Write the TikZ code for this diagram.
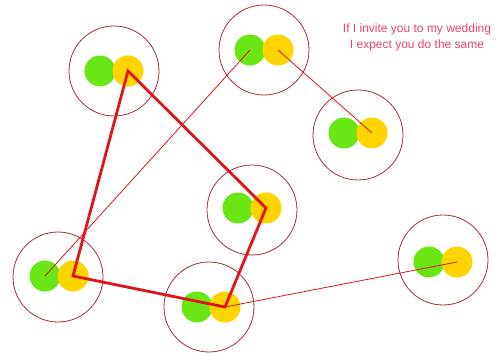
\documentclass[tikz,border=0pt]{standalone}
\usepackage{fontspec}
\setmainfont{Liberation Sans}
\usepackage{tikz}
\usetikzlibrary{positioning, calc}
\definecolor{ringred}{RGB}{165,45,55}
\definecolor{linered}{RGB}{225,20,25}
\definecolor{limegreen}{RGB}{105,230,20}
\definecolor{goldyellow}{RGB}{255,212,0}
\definecolor{notepink}{RGB}{230,70,105}

\begin{document}
\begin{tikzpicture}[x=1pt, y=-1pt,
    friend/.style={circle, draw=ringred, line width=0.8pt, minimum size=90pt, inner sep=0pt},
    greendot/.style={circle, fill=limegreen, minimum size=31pt, inner sep=0pt},
    yellowdot/.style={circle, fill=goldyellow, minimum size=31pt, inner sep=0pt},
    strong/.style={draw=linered, line width=2.8pt, line join=miter},
    weak/.style={draw=linered, line width=0.8pt}]
      \useasboundingbox (0,0) rectangle (499,356);

      \node[friend] (F1) at (114,71) {};
      \node[friend] (F2) at (264,50) {};
      \node[friend] (F3) at (358,135) {};
      \node[friend] (F4) at (252,210) {};
      \node[friend] (F5) at (58,277) {};
      \node[friend] (F6) at (209,307) {};
      \node[friend] (F7) at (443,260) {};

      \node[greendot] (F1g) at (100,71) {};
      \node[yellowdot] (F1y) at (128,71) {};
      \node[greendot] (F2g) at (250,50) {};
      \node[yellowdot] (F2y) at (278,50) {};
      \node[greendot] (F3g) at (344,133) {};
      \node[yellowdot] (F3y) at (372,133) {};
      \node[greendot] (F4g) at (238,208) {};
      \node[yellowdot] (F4y) at (266,208) {};
      \node[greendot] (F5g) at (45,276) {};
      \node[yellowdot] (F5y) at (73,276) {};
      \node[greendot] (F6g) at (197,307) {};
      \node[yellowdot] (F6y) at (225,307) {};
      \node[greendot] (F7g) at (429,262) {};
      \node[yellowdot] (F7y) at (457,262) {};

      \node[align=center, text=notepink, font=\fontsize{12}{16}\selectfont] (note) at (417,37) {If I invite you to my wedding\\I expect you do the same};

      \draw[weak] (node cs:name=F2g,anchor=center) -- (node cs:name=F5g,anchor=center);
      \draw[weak] (node cs:name=F2y,anchor=center) -- (node cs:name=F3y,anchor=center);
      \draw[weak] (node cs:name=F6y,anchor=center) -- (node cs:name=F7y,anchor=center);
      \draw[strong] (node cs:name=F1y,anchor=center) -- (node cs:name=F4y,anchor=center)
        -- (node cs:name=F6y,anchor=center) -- (node cs:name=F5y,anchor=center) -- cycle;
    \end{tikzpicture}
\end{document}
